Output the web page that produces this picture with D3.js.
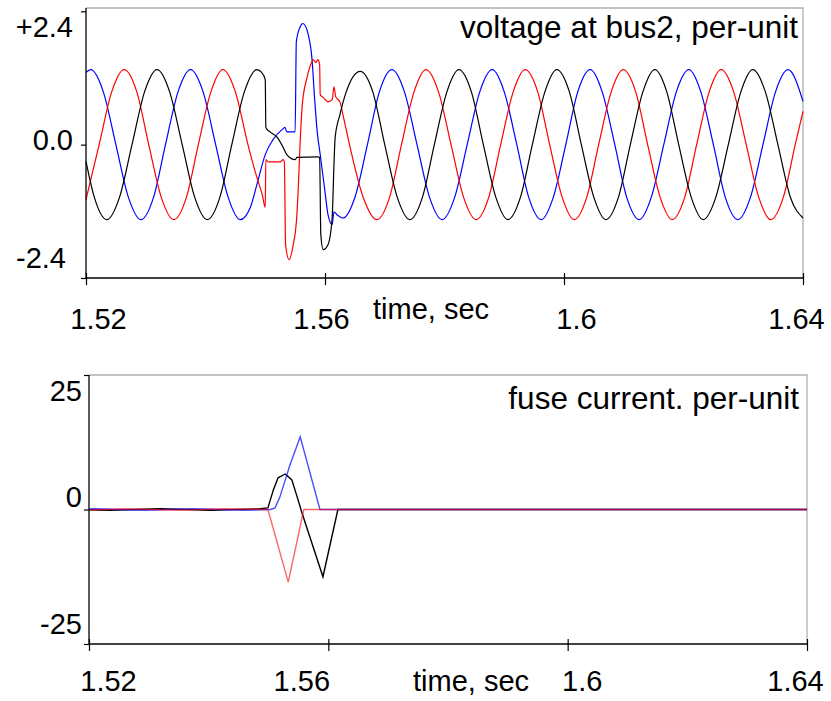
<!DOCTYPE html>
<html>
<head>
<meta charset="utf-8">
<script src="https://cdn.jsdelivr.net/npm/d3@7"></script>
<style>
  body { margin: 0; background: #fff; }
  svg { display: block; font-family: "Liberation Sans", Arial, sans-serif; }
</style>
</head>
<body>
<svg id="chart" width="831" height="701"></svg>
<script>
// ticks
const timeTicks = [1.52, 1.56, 1.6, 1.64]
const voltTicks = [2.4, 0, -2.4]
const voltTickLabels = ['+2.4', '0.0', '-2.4']
const currTicks = [25, 0, -25]
const currTickLabels = ['25', '0', '-25']

// voltage at bus2, per-unit  [time sec, value]
const vBlue = [
  [1.5200, 1.30], [1.5208, 1.35], [1.5229, 0.95], [1.5250, 0], [1.5271, -0.95], [1.5292, -1.35],
  [1.5313, -0.95], [1.5333, 0], [1.5354, 0.95], [1.5375, 1.35], [1.5396, 0.95], [1.5417, 0],
  [1.5438, -0.95], [1.5458, -1.35], [1.5475, -1.13], [1.5486, -0.72], [1.5500, -0.18],
  [1.5513, 0.09], [1.5528, 0.27], [1.5533, 0.31], [1.5536, 0.23], [1.5550, 0.23],
  [1.5552, 1.85], [1.5558, 2.11], [1.5563, 2.18], [1.5572, 1.98], [1.5578, 1.57],
  [1.5583, 0.77], [1.5587, 0.23], [1.5592, -0.18], [1.5600, -0.85], [1.5605, -1.26],
  [1.5612, -1.44], [1.5615, -1.21], [1.5620, -1.26], [1.5630, -1.32],
  [1.5650, -0.95], [1.5671, 0], [1.5691, 0.95], [1.5712, 1.35], [1.5733, 0.95], [1.5754, 0],
  [1.5775, -0.95], [1.5796, -1.35], [1.5817, -0.95], [1.5838, 0], [1.5859, 0.95], [1.5880, 1.35],
  [1.5900, 0.95], [1.5921, 0], [1.5941, -0.95], [1.5962, -1.35], [1.5982, -0.95], [1.6003, 0],
  [1.6023, 0.95], [1.6044, 1.35], [1.6064, 0.95], [1.6085, 0], [1.6105, -0.95], [1.6126, -1.35],
  [1.6146, -0.95], [1.6167, 0], [1.6188, 0.95], [1.6209, 1.35], [1.6229, 0.95], [1.6250, 0],
  [1.6270, -0.95], [1.6291, -1.35], [1.6312, -0.95], [1.6333, 0], [1.6354, 0.95], [1.6375, 1.35],
  [1.6400, 0.78]
]
const vRed = [
  [1.5200, -0.99], [1.5222, 0], [1.5243, 0.95], [1.5264, 1.35], [1.5285, 0.95], [1.5305, 0],
  [1.5326, -0.95], [1.5347, -1.35], [1.5368, -0.95], [1.5388, 0], [1.5409, 0.95], [1.5429, 1.35],
  [1.5450, 0.95], [1.5471, 0], [1.5486, -0.59], [1.5495, -0.90], [1.5500, -1.13],
  [1.5501, -0.27], [1.5505, -0.31], [1.5525, -0.31], [1.5530, -0.27], [1.5532, -0.31],
  [1.5534, -1.80], [1.5540, -2.07], [1.5546, -1.85], [1.5553, -1.26], [1.5555, -0.85],
  [1.5558, -0.05], [1.5562, 0.72], [1.5570, 1.21], [1.5578, 1.49], [1.5580, 1.53],
  [1.5585, 1.48], [1.5588, 1.53], [1.5591, 1.44], [1.5592, 0.90], [1.5597, 0.85],
  [1.5605, 0.77], [1.5612, 0.81], [1.5615, 1.04], [1.5618, 0.86], [1.5625, 0.77],
  [1.5630, 0.54], [1.5641, 0], [1.5664, -0.95], [1.5687, -1.35], [1.5708, -0.95], [1.5728, 0],
  [1.5749, 0.95], [1.5769, 1.35], [1.5790, 0.95], [1.5811, 0], [1.5832, -0.95], [1.5853, -1.35],
  [1.5874, -0.95], [1.5894, 0], [1.5915, 0.95], [1.5935, 1.35], [1.5956, 0.95], [1.5976, 0],
  [1.5997, -0.95], [1.6017, -1.35], [1.6038, -0.95], [1.6058, 0], [1.6079, 0.95], [1.6099, 1.35],
  [1.6120, 0.95], [1.6140, 0], [1.6161, -0.95], [1.6181, -1.35], [1.6202, -0.95], [1.6222, 0],
  [1.6243, 0.95], [1.6263, 1.35], [1.6284, 0.95], [1.6305, 0], [1.6326, -0.95], [1.6346, -1.35],
  [1.6367, -0.95], [1.6387, 0], [1.6400, 0.60]
]
const vBlack = [
  [1.5200, -0.30], [1.5214, -0.95], [1.5235, -1.35], [1.5256, -0.95], [1.5277, 0], [1.5298, 0.95],
  [1.5319, 1.35], [1.5340, 0.95], [1.5361, 0], [1.5382, -0.95], [1.5403, -1.35], [1.5424, -0.95],
  [1.5444, 0], [1.5465, 0.95], [1.5486, 1.35], [1.5494, 1.30], [1.5500, 1.17], [1.5501, 0.31],
  [1.5508, 0.23], [1.5520, 0.13], [1.5530, -0.05], [1.5536, -0.18], [1.5550, -0.27],
  [1.5553, -0.23], [1.5588, -0.22], [1.5591, -0.23], [1.5593, -1.62], [1.5597, -1.89],
  [1.5605, -1.80], [1.5612, -1.31], [1.5615, -0.36], [1.5617, 0.13], [1.5625, 0.54],
  [1.5634, 0.90], [1.5659, 1.32], [1.5680, 0.95], [1.5700, 0], [1.5721, -0.95], [1.5742, -1.35],
  [1.5763, -0.95], [1.5783, 0], [1.5804, 0.95], [1.5824, 1.35], [1.5845, 0.95], [1.5865, 0],
  [1.5886, -0.95], [1.5906, -1.35], [1.5927, -0.95], [1.5947, 0], [1.5968, 0.95], [1.5988, 1.35],
  [1.6009, 0.95], [1.6029, 0], [1.6050, -0.95], [1.6070, -1.35], [1.6091, -0.95], [1.6111, 0],
  [1.6132, 0.95], [1.6152, 1.35], [1.6172, 0.95], [1.6192, 0], [1.6213, -0.95], [1.6233, -1.35],
  [1.6254, -0.95], [1.6275, 0], [1.6296, 0.95], [1.6316, 1.35], [1.6337, 0.95], [1.6358, 0],
  [1.6379, -0.95], [1.6400, -1.32]
]

// fuse current, per-unit  [time sec, value]
const iBlue = [
  [1.5200, 0.10], [1.5208, 0.15], [1.5292, -0.15], [1.5375, 0.15], [1.5458, -0.15],
  [1.5503, 0], [1.5511, 0.3], [1.5519, 2.3], [1.5528, 5.5], [1.5536, 8.3], [1.5553, 13.5],
  [1.5586, 0], [1.6400, 0]
]
const iRed = [
  [1.5200, -0.10], [1.5264, 0.15], [1.5347, -0.15], [1.5429, 0.15], [1.5499, 0],
  [1.5533, -13.5], [1.5559, 0], [1.6400, 0]
]
const iBlack = [
  [1.5200, -0.05], [1.5235, -0.15], [1.5319, 0.15], [1.5403, -0.15], [1.5486, 0.15],
  [1.5499, 0.3], [1.5508, 3.6], [1.5516, 5.9], [1.5528, 6.6], [1.5539, 5.5], [1.5548, 2.3],
  [1.5556, -0.65], [1.5591, -12.5], [1.5616, 0], [1.6400, 0]
]

const svg = d3.select('#chart')
const font = '"Liberation Sans", Arial, sans-serif'

function drawPanel(p) {
  const x = d3.scaleLinear().domain([1.52, 1.64]).range([p.left, p.right])
  const y = d3.scaleLinear().domain([-p.yMax, p.yMax]).range([p.bottom, p.yTop])
  const g = svg.append('g')

  // grey frame top / right
  g.append('path')
    .attr('d', `M${p.left},${p.top}H${p.right}V${p.bottom}`)
    .attr('fill', 'none').attr('stroke', '#b0b0b0').attr('stroke-width', 1.3)

  const line = d3.line().x(d => x(d[0])).y(d => y(d[1])).curve(p.curve)
  p.series.forEach(s => {
    g.append('path').datum(s.data)
      .attr('fill', 'none')
      .attr('stroke', s.color)
      .attr('stroke-width', p.lineWidth)
      .attr('stroke-opacity', s.opacity)
      .attr('d', line)
  })

  // axes lines
  g.append('line').attr('x1', p.left).attr('x2', p.left).attr('y1', p.top).attr('y2', p.bottom)
    .attr('stroke', '#000').attr('stroke-width', 1.3)
  g.append('line').attr('x1', p.left).attr('x2', p.right).attr('y1', p.bottom).attr('y2', p.bottom)
    .attr('stroke', '#000').attr('stroke-width', 1.3)

  const xa = g.append('g').attr('transform', `translate(0,${p.bottom})`)
    .call(d3.axisBottom(x).tickValues(timeTicks).tickSize(7).tickSizeOuter(0).tickFormat(d3.format('')))
    .attr('font-family', font).attr('font-size', 29)
  xa.select('.domain').remove()
  xa.selectAll('.tick line').attr('y1', -5).attr('stroke-width', 1.2)
  xa.selectAll('.tick text').attr('dy', null).attr('y', p.xLabelY).attr('x', (d, i) => p.xLabelDx[i])

  const ya = g.append('g').attr('transform', `translate(${p.left},0)`)
    .call(d3.axisLeft(y).tickValues(p.yTicks).tickSize(5).tickSizeOuter(0).tickFormat((d, i) => p.yLabels[i]))
    .attr('font-family', font).attr('font-size', 29)
  ya.select('.domain').remove()
  ya.selectAll('.tick line').attr('stroke-width', 1.2)
  ya.selectAll('.tick text').attr('dy', null).attr('y', (d, i) => p.yLabelDy[i]).attr('x', (d, i) => p.yLabelDx[i])

  g.append('text').attr('x', p.titleX).attr('y', p.titleY).attr('text-anchor', 'end')
    .attr('font-size', 31.5).text(p.title)
  g.append('text').attr('x', p.timeX).attr('y', p.timeY)
    .attr('font-size', 29).text('time, sec')
}

drawPanel({
  left: 86, right: 803, top: 8, yTop: 11.3, bottom: 278, yMax: 2.4,
  yTicks: voltTicks, yLabels: voltTickLabels,
  yLabelDy: [25, 5, -11], yLabelDx: [-13, -13, -20],
  xLabelY: 51, xLabelDx: [12, -4, 12, -7],
  title: 'voltage at bus2, per-unit', titleX: 798, titleY: 38,
  timeX: 373, timeY: 319,
  curve: d3.curveMonotoneX, lineWidth: 1.2,
  series: [
    { data: vBlue, color: '#0000ff', opacity: 1 },
    { data: vRed, color: '#ff0000', opacity: 1 },
    { data: vBlack, color: '#000000', opacity: 1 }
  ]
})

drawPanel({
  left: 89, right: 807, top: 375, yTop: 375, bottom: 644, yMax: 25,
  yTicks: currTicks, yLabels: currTickLabels,
  yLabelDy: [25, -3, -11], yLabelDx: [-7, -7, -7],
  xLabelY: 47, xLabelDx: [19, -27, 14, -12],
  title: 'fuse current. per-unit', titleX: 799, titleY: 409,
  timeX: 413, timeY: 691,
  curve: d3.curveLinear, lineWidth: 1.4,
  series: [
    { data: iBlack, color: '#000000', opacity: 1 },
    { data: iBlue, color: '#0000ff', opacity: 0.7 },
    { data: iRed, color: '#ff0000', opacity: 0.6 }
  ]
})
</script>
</body>
</html>
